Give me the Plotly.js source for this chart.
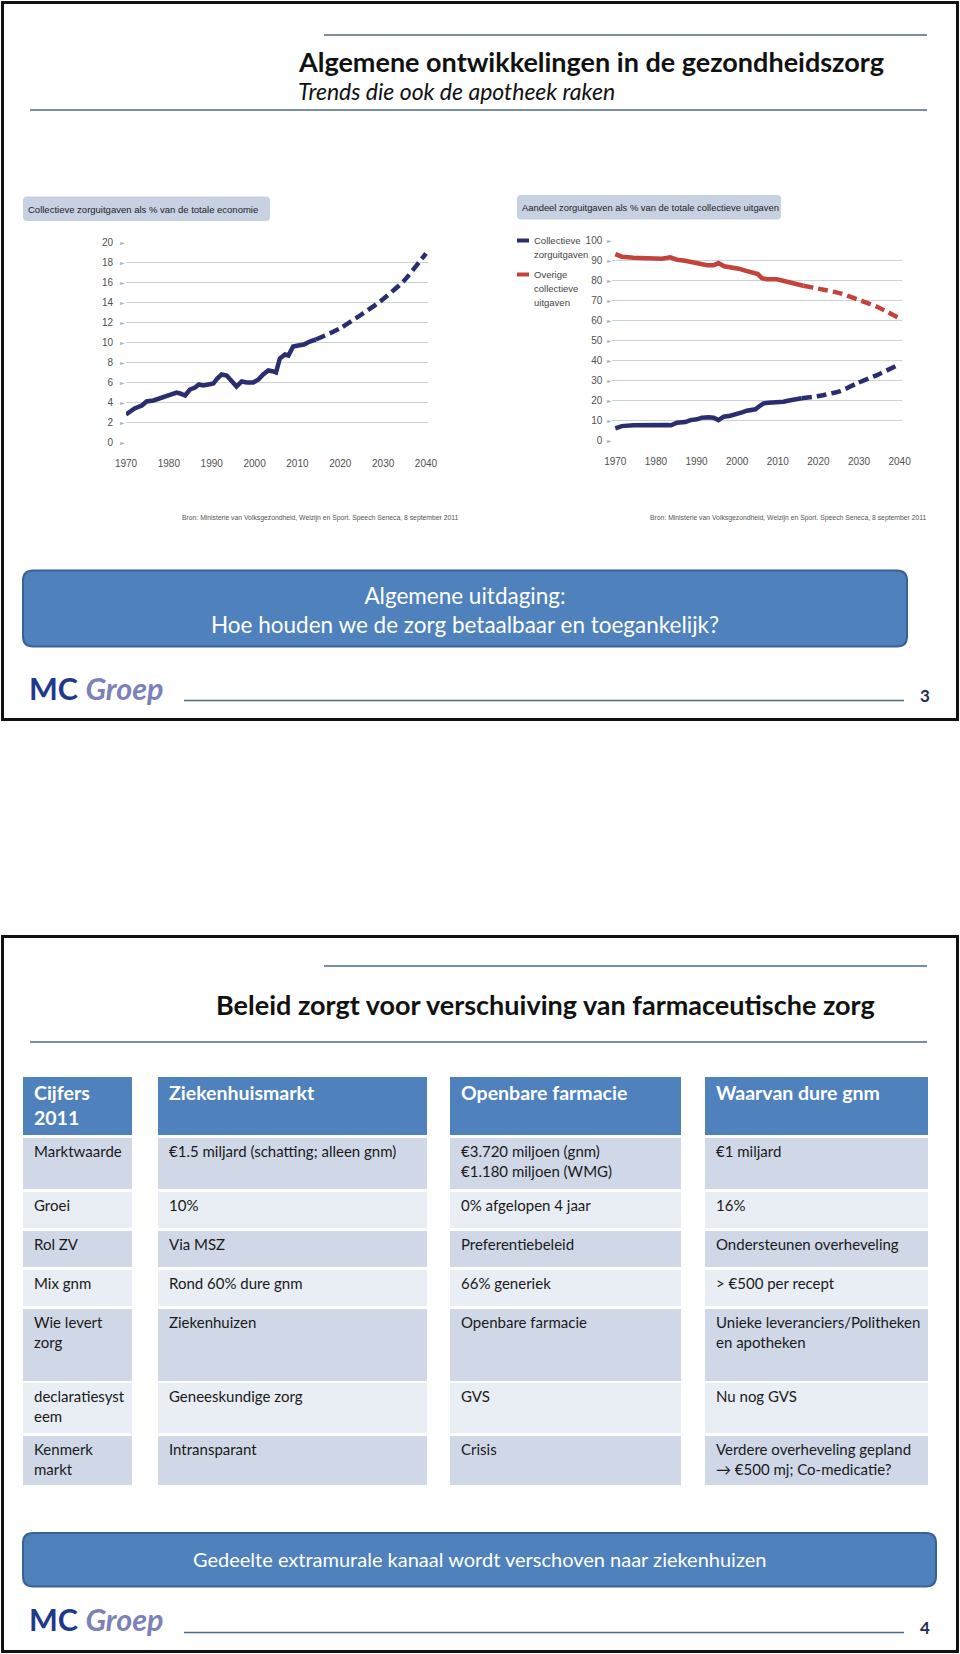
<!DOCTYPE html>
<html><head><meta charset="utf-8">
<script src="https://cdn.plot.ly/plotly-3.0.1.min.js"></script>
<style>html,body{margin:0;padding:0;background:#fff}#chart{width:960px;height:1654px}</style>
</head><body><div id="chart"></div>
<script>
// ---------------- DATA ----------------
// Chart 1: Collectieve zorguitgaven als % van de totale economie
const econYearsHist = [1970,1972,1973.7,1974.8,1976.4,1978.7,1980.7,1981.8,1982.6,1983.8,1984.9,1986.1,1987,1988,1989.2,1990.4,1991.3,1992.3,1993.5,1994.4,1995.8,1997,1998.2,1999.7,2000.9,2002,2003.2,2004.4,2005,2005.9,2007.1,2007.9,2009,2010.2,2011.5,2012.9,2014.3];
const econHist      = [2.8,3.4,3.7,4.1,4.2,4.5,4.8,5.0,4.9,4.7,5.3,5.5,5.8,5.7,5.8,5.9,6.4,6.8,6.7,6.3,5.6,6.1,6.0,6.0,6.3,6.8,7.2,7.1,7.0,8.4,8.8,8.7,9.6,9.7,9.8,10.1,10.3];
const econYearsProj = [2014.3,2019.9,2024.6,2029.3,2034.7,2040];
const econProj      = [10.3,11.4,12.7,14.1,16.1,18.9];

// Chart 2: Aandeel zorguitgaven als % van de totale collectieve uitgaven
const careYearsHist = [1970,1971.6,1974.5,1977.8,1980.3,1981.5,1982.7,1983.7,1985.2,1987.2,1988.5,1990.1,1991.3,1993,1994.2,1995.4,1996.7,1998.3,2000,2001.2,2002.4,2004.5,2005.3,2006.5,2007.7,2009.8,2011.4,2013.1,2014.7,2015.9];
const careHist      = [6.2,7.3,7.7,7.8,7.8,8.2,7.8,7.7,9.0,9.3,10.3,10.7,11.5,11.7,11.5,10.3,12.0,12.5,13.2,14.2,15.0,15.7,17.0,18.7,19.0,19.0,19.5,20.2,20.7,21.2];
const careYearsProj = [2015.9,2020.5,2025.4,2029.5,2034.4,2040];
const careProj      = [21.2,22.5,24.8,28.7,32.8,38.2];

const otherYearsHist = [1970,1971.6,1974.5,1977.8,1980.3,1981.5,1983.5,1985.2,1987.2,1988.9,1990.9,1992.6,1994.2,1995.4,1996.8,1998.7,2000.4,2002,2004,2005.1,2006.1,2007.3,2009.8,2011.4,2013.1,2014.7,2016.3];
const otherHist      = [93.3,92.0,91.5,91.3,91.3,91.0,91.7,90.5,90.0,89.3,88.7,87.7,87.7,88.8,87.2,86.7,86.0,85.0,84.0,83.3,81.2,80.7,80.7,80.0,79.3,78.5,77.5];
const otherYearsProj = [2016.3,2020.5,2025.4,2029.5,2034.4,2040];
const otherProj      = [77.5,75.8,73.7,70.7,67.0,61.2];

const xTicks = [1970,1980,1990,2000,2010,2020,2030,2040];
const yTicks1 = [0,2,4,6,8,10,12,14,16,18,20];
const yTicks2 = [0,10,20,30,40,50,60,70,80,90,100];

const chart1Title = "Collectieve zorguitgaven als % van de totale economie";
const chart2Title = "Aandeel zorguitgaven als % van de totale collectieve uitgaven";
const legendCare = ["Collectieve","zorguitgaven"];
const legendOther = ["Overige","collectieve","uitgaven"];
const sourceText = "Bron: Ministerie van Volksgezondheid, Welzijn en Sport. Speech Seneca, 8 september 2011";

// Slide texts
const slide1Title = "Algemene ontwikkelingen in de gezondheidszorg";
const slide1Sub = "Trends die ook de apotheek raken";
const callout1 = "Algemene uitdaging:<br>Hoe houden we de zorg betaalbaar en toegankelijk?";
const slide2Title = "Beleid zorgt voor verschuiving van farmaceutische zorg";
const callout2 = "Gedeelte extramurale kanaal wordt verschoven naar ziekenhuizen";

// Table
const tableHeaders = ["Cijfers<br>2011","Ziekenhuismarkt","Openbare farmacie","Waarvan dure gnm"];
const rowLabels = ["Marktwaarde","Groei","Rol ZV","Mix gnm","Wie levert<br>zorg","declaratiesyst<br>eem","Kenmerk<br>markt"];
const colZiekenhuis = ["€1.5 miljard (schatting; alleen gnm)","10%","Via MSZ","Rond 60% dure gnm","Ziekenhuizen","Geneeskundige zorg","Intransparant"];
const colOpenbare = ["€3.720 miljoen (gnm)<br>€1.180 miljoen (WMG)","0% afgelopen 4 jaar","Preferentiebeleid","66% generiek","Openbare farmacie","GVS","Crisis"];
const colDure = ["€1 miljard","16%","Ondersteunen overheveling","> €500 per recept","Unieke leveranciers/Politheken<br>en apotheken","Nu nog GVS","Verdere overheveling gepland<br>→ €500 mj; Co-medicatie?"];

// ---------------- LAYOUT HELPERS ----------------
const W = 960, H = 1654;
const X = px => px / W;
const Y = py => 1 - py / H;
const NARROW = '"Liberation Sans Narrow","Arial Narrow","Liberation Sans",Arial,sans-serif';
const CAL = 'Lato,"Open Sans",sans-serif';
const NAVY = '#2b2e6e', RED = '#c2433c';

function rr(x0, y0, x1, y1, r) {
  const p = [
    ['M', x0 + r, y0], ['L', x1 - r, y0], ['Q', x1, y0, x1, y0 + r], ['L', x1, y1 - r],
    ['Q', x1, y1, x1 - r, y1], ['L', x0 + r, y1], ['Q', x0, y1, x0, y1 - r], ['L', x0, y0 + r],
    ['Q', x0, y0, x0 + r, y0]
  ];
  return p.map(s => {
    let out = s[0];
    for (let i = 1; i < s.length; i += 2) out += ' ' + X(s[i]).toFixed(5) + ',' + Y(s[i + 1]).toFixed(5);
    return out;
  }).join(' ') + ' Z';
}
function rect(x0, y0, x1, y1, fill, line) {
  return {type: 'rect', xref: 'paper', yref: 'paper', x0: X(x0), x1: X(x1), y0: Y(y1), y1: Y(y0),
    fillcolor: fill, line: line || {width: 0}, layer: 'below'};
}
function hline(x0, x1, y, color, width) {
  return {type: 'line', xref: 'paper', yref: 'paper', x0: X(x0), x1: X(x1), y0: Y(y), y1: Y(y),
    line: {color: color, width: width}};
}
function txt(text, x, y, opts) {
  return Object.assign({xref: 'paper', yref: 'paper', x: X(x), y: Y(y), text: text, showarrow: false,
    xanchor: 'left', yanchor: 'middle', align: 'left', font: {family: CAL, size: 14, color: '#1a1a1a'}}, opts || {});
}

// ---------------- TRACES ----------------
const traces = [
  {x: econYearsHist, y: econHist, xaxis: 'x', yaxis: 'y', mode: 'lines', line: {color: NAVY, width: 4.5}, hoverinfo: 'skip', cliponaxis: false},
  {x: econYearsProj, y: econProj, xaxis: 'x', yaxis: 'y', mode: 'lines', line: {color: NAVY, width: 4.5, dash: '10px,5px', shape: 'spline', smoothing: 0.6}, hoverinfo: 'skip', cliponaxis: false},
  {x: otherYearsHist, y: otherHist, xaxis: 'x2', yaxis: 'y2', mode: 'lines', line: {color: RED, width: 4.5}, hoverinfo: 'skip', cliponaxis: false},
  {x: otherYearsProj, y: otherProj, xaxis: 'x2', yaxis: 'y2', mode: 'lines', line: {color: RED, width: 4.5, dash: '10px,5px', shape: 'spline', smoothing: 0.6}, hoverinfo: 'skip', cliponaxis: false},
  {x: careYearsHist, y: careHist, xaxis: 'x2', yaxis: 'y2', mode: 'lines', line: {color: NAVY, width: 4.5}, hoverinfo: 'skip', cliponaxis: false},
  {x: careYearsProj, y: careProj, xaxis: 'x2', yaxis: 'y2', mode: 'lines', line: {color: NAVY, width: 4.5, dash: '10px,5px', shape: 'spline', smoothing: 0.6}, hoverinfo: 'skip', cliponaxis: false}
];

const tickFont = {family: NARROW, size: 10, color: '#505050'};
const axX = (dom, rng, tl) => ({domain: dom, range: rng, tickvals: xTicks, showgrid: false, zeroline: false, showline: false,
  ticks: 'outside', ticklen: tl, tickcolor: 'rgba(0,0,0,0)', tickfont: tickFont, fixedrange: true});
const axY = (dom, rng, vals, tl) => ({domain: dom, range: rng, tickvals: vals, showgrid: true, gridcolor: '#cdd2da', gridwidth: 1.2,
  zeroline: false, showline: false, ticks: 'outside', ticklen: tl, tickcolor: 'rgba(0,0,0,0)', tickfont: tickFont, fixedrange: true});

const shapes = [];
const annotations = [];

// Slide frames
shapes.push({type: 'rect', xref: 'paper', yref: 'paper', x0: X(2.5), x1: X(957.5), y0: Y(719.5), y1: Y(2.5), line: {color: '#111', width: 3}, fillcolor: 'rgba(0,0,0,0)'});
shapes.push({type: 'rect', xref: 'paper', yref: 'paper', x0: X(2.5), x1: X(957.5), y0: Y(1651.5), y1: Y(936.5), line: {color: '#111', width: 3}, fillcolor: 'rgba(0,0,0,0)'});

// Slide 1 header
shapes.push(hline(324, 927, 35, '#4d6884', 1.5));
shapes.push(hline(30, 927, 110, '#4d6884', 1.5));
annotations.push(txt('<b>' + slide1Title + '</b>', 296, 61, {font: {family: CAL, size: 27, color: '#111'}}));
annotations.push(txt('<i>' + slide1Sub + '</i>', 296, 91, {font: {family: CAL, size: 23, color: '#111'}}));

// Chart title boxes
shapes.push({type: 'path', xref: 'paper', yref: 'paper', path: rr(23, 196.5, 270, 221, 4), fillcolor: '#c7d1e1', line: {width: 0}, layer: 'below'});
shapes.push({type: 'path', xref: 'paper', yref: 'paper', path: rr(517, 195, 781, 219.5, 4), fillcolor: '#c7d1e1', line: {width: 0}, layer: 'below'});
annotations.push(txt(chart1Title, 26, 209, {font: {family: NARROW, size: 9.5, color: '#222'}}));
annotations.push(txt(chart2Title, 520, 207.5, {font: {family: NARROW, size: 9.4, color: '#222'}}));

// Tick triangles
yTicks1.forEach(v => annotations.push({xref: 'paper', yref: 'y', x: X(122.5), y: v, text: '►', showarrow: false,
  font: {family: 'DejaVu Sans', size: 6, color: '#a8b5c8'}, xanchor: 'center', yanchor: 'middle'}));
yTicks2.forEach(v => annotations.push({xref: 'paper', yref: 'y2', x: X(609.5), y: v, text: '►', showarrow: false,
  font: {family: 'DejaVu Sans', size: 6, color: '#a8b5c8'}, xanchor: 'center', yanchor: 'middle'}));

// Legend (chart 2)
shapes.push(hline(517, 529, 240.5, NAVY, 4));
shapes.push(hline(517, 529, 274.5, RED, 4));
legendCare.forEach((t, i) => annotations.push(txt(t, 532, 240.5 + i * 14, {font: {family: NARROW, size: 9.5, color: '#444'}})));
legendOther.forEach((t, i) => annotations.push(txt(t, 532, 274.5 + i * 14, {font: {family: NARROW, size: 9.5, color: '#444'}})));

// Sources
annotations.push(txt(sourceText, 180, 518, {font: {family: NARROW, size: 6.8, color: '#555'}}));
annotations.push(txt(sourceText, 929, 518, {xanchor: 'right', font: {family: NARROW, size: 6.8, color: '#555'}}));

// Callout 1
shapes.push({type: 'path', xref: 'paper', yref: 'paper', path: rr(23, 570.5, 907, 646.5, 10), fillcolor: '#4f81bd', line: {color: '#3a6294', width: 2}});
annotations.push(txt(callout1, 465, 610, {xanchor: 'center', align: 'center', font: {family: CAL, size: 22.5, color: '#fff'}}));

// Footer helper
function footer(yc, lineY, num) {
  annotations.push(txt('<b><span style="color:#1f3a8a">MC</span> <i><span style="color:#7c81b9">Groep</span></i></b>', 27, yc, {font: {family: CAL, size: 30.5, color: '#1f3a8a'}}));
  shapes.push(hline(184, 904, lineY, '#4d6884', 1.5));
  annotations.push(txt('<b>' + num + '</b>', 925, lineY - 5, {xanchor: 'center', font: {family: CAL, size: 17, color: '#1f2d4d'}}));
}
footer(688, 700.5, '3');

// Slide 2 header
shapes.push(hline(324, 927, 966, '#4d6884', 1.5));
shapes.push(hline(30, 927, 1042, '#4d6884', 1.5));
annotations.push(txt('<b>' + slide2Title + '</b>', 545, 1004, {xanchor: 'center', font: {family: CAL, size: 27, color: '#111'}}));

// Table
const COLS = [[23,132],[158,427],[450,681],[705,928]];
const HEAD = [1077,1135];
const ROWS = [[1138,1189],[1192,1228],[1231,1267],[1270,1306],[1309,1381],[1383,1433],[1436,1485]];
const columns = [rowLabels, colZiekenhuis, colOpenbare, colDure];
COLS.forEach((c, ci) => {
  shapes.push(rect(c[0], HEAD[0], c[1], HEAD[1], '#4f81bd'));
  annotations.push(txt('<b>' + tableHeaders[ci] + '</b>', c[0] + 9, HEAD[0] + 2, {yanchor: 'top', font: {family: CAL, size: 19.5, color: '#fff'}}));
  ROWS.forEach((r, ri) => {
    shapes.push(rect(c[0], r[0], c[1], r[1], ri % 2 === 0 ? '#d0d8e8' : '#e9edf4'));
    annotations.push(txt(columns[ci][ri], c[0] + 9, r[0] + 2, {yanchor: 'top', font: {family: CAL, size: 15, color: '#1a1a1a'}}));
  });
});

// Callout 2
shapes.push({type: 'path', xref: 'paper', yref: 'paper', path: rr(23, 1533, 936, 1586.5, 10), fillcolor: '#4f81bd', line: {color: '#3a6294', width: 2}});
annotations.push(txt(callout2, 480, 1559, {xanchor: 'center', align: 'center', font: {family: CAL, size: 20, color: '#fff'}}));
footer(1619, 1632.5, '4');

const layout = {
  width: W, height: H, margin: {l: 0, r: 0, t: 0, b: 0},
  paper_bgcolor: '#fff', plot_bgcolor: 'rgba(0,0,0,0)', showlegend: false,
  xaxis: Object.assign(axX([X(126), X(428.3)], [1970, 2040.54], 11), {anchor: 'y'}),
  yaxis: Object.assign(axY([Y(442.5), Y(242.5)], [0, 20], yTicks1, 10), {anchor: 'x'}),
  xaxis2: Object.assign(axX([X(612.3), X(902.3)], [1969.26, 2040.66], 11), {anchor: 'y2'}),
  yaxis2: Object.assign(axY([Y(440.7), Y(240.7)], [0, 100], yTicks2, 7), {anchor: 'x2'}),
  shapes: shapes, annotations: annotations
};
Plotly.newPlot('chart', traces, layout, {displayModeBar: false, staticPlot: true});
</script></body></html>
